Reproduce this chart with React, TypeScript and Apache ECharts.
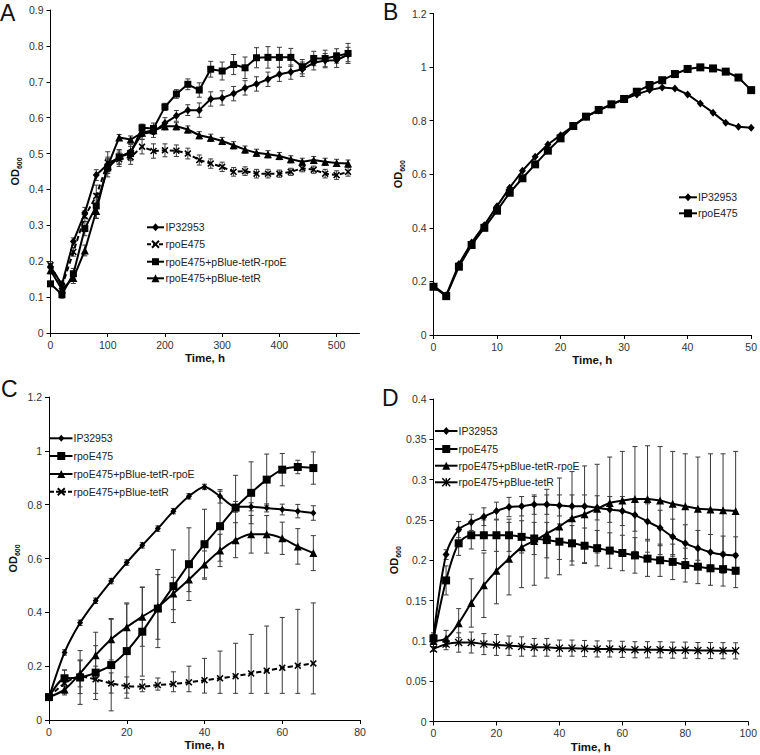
import React, { useEffect, useRef } from 'react';
import * as echarts from 'echarts';

const FONT = '"Liberation Sans", Arial, Helvetica, sans-serif';

// ---------- Panel A ----------
const tA = [0, 20, 40, 60, 80, 100, 120, 140, 160, 180, 200, 220, 240, 260, 280, 300, 320, 340, 360, 380, 400, 420, 440, 460, 480, 500, 520];
const aIP = [0.185, 0.135, 0.255, 0.335, 0.44, 0.47, 0.49, 0.505, 0.555, 0.56, 0.585, 0.605, 0.621, 0.621, 0.652, 0.655, 0.667, 0.683, 0.694, 0.707, 0.721, 0.727, 0.735, 0.753, 0.759, 0.76, 0.776];
const aIPErr = [0.005, 0.01, 0.01, 0.015, 0.015, 0.02, 0.02, 0.02, 0.015, 0.015, 0.015, 0.015, 0.015, 0.02, 0.02, 0.02, 0.02, 0.02, 0.02, 0.02, 0.02, 0.02, 0.02, 0.02, 0.02, 0.02, 0.02];
const aRpoE = [0.189, 0.13, 0.226, 0.325, 0.382, 0.475, 0.484, 0.49, 0.519, 0.507, 0.509, 0.508, 0.5, 0.482, 0.472, 0.463, 0.449, 0.451, 0.444, 0.444, 0.444, 0.449, 0.459, 0.455, 0.444, 0.44, 0.449];
const aRpoEErr = [0.01, 0.01, 0.012, 0.015, 0.03, 0.03, 0.02, 0.02, 0.02, 0.02, 0.018, 0.016, 0.015, 0.014, 0.013, 0.013, 0.012, 0.012, 0.012, 0.012, 0.01, 0.01, 0.01, 0.01, 0.012, 0.012, 0.012];
const aComp = [0.137, 0.107, 0.165, 0.291, 0.354, 0.46, 0.491, 0.5, 0.572, 0.57, 0.63, 0.666, 0.693, 0.677, 0.735, 0.73, 0.748, 0.739, 0.767, 0.768, 0.768, 0.768, 0.742, 0.765, 0.765, 0.772, 0.779];
const aCompErr = [0.005, 0.01, 0.015, 0.02, 0.035, 0.025, 0.02, 0.02, 0.01, 0.015, 0.01, 0.012, 0.015, 0.02, 0.022, 0.025, 0.028, 0.03, 0.028, 0.03, 0.028, 0.025, 0.02, 0.02, 0.023, 0.02, 0.028];
const aTetR = [0.175, 0.121, 0.153, 0.23, 0.34, 0.465, 0.545, 0.539, 0.558, 0.565, 0.576, 0.576, 0.567, 0.551, 0.544, 0.535, 0.523, 0.511, 0.502, 0.498, 0.493, 0.484, 0.477, 0.482, 0.477, 0.474, 0.472];
const aTetRErr = [0.01, 0.01, 0.015, 0.015, 0.02, 0.02, 0.008, 0.01, 0.01, 0.01, 0.01, 0.01, 0.01, 0.01, 0.01, 0.01, 0.01, 0.01, 0.01, 0.01, 0.01, 0.01, 0.01, 0.01, 0.01, 0.01, 0.01];

// ---------- Panel B ----------
const tB = [0, 2, 4, 6, 8, 10, 12, 14, 16, 18, 20, 22, 24, 26, 28, 30, 32, 34, 36, 38, 40, 42, 44, 46, 48, 50];
const bIP = [0.184, 0.148, 0.265, 0.345, 0.41, 0.481, 0.55, 0.613, 0.665, 0.711, 0.746, 0.78, 0.815, 0.838, 0.86, 0.88, 0.898, 0.914, 0.924, 0.92, 0.898, 0.864, 0.83, 0.792, 0.777, 0.774];
const bRpoE = [0.18, 0.145, 0.255, 0.336, 0.4, 0.464, 0.531, 0.585, 0.637, 0.688, 0.734, 0.78, 0.815, 0.84, 0.861, 0.881, 0.908, 0.933, 0.951, 0.974, 0.993, 0.999, 0.995, 0.983, 0.961, 0.914];

// ---------- Panel C ----------
const tC = [0, 4, 8, 12, 16, 20, 24, 28, 32, 36, 40, 44, 48, 52, 56, 60, 64, 68];
const cIP = [0.084, 0.251, 0.361, 0.443, 0.516, 0.585, 0.649, 0.711, 0.776, 0.831, 0.866, 0.831, 0.792, 0.792, 0.788, 0.782, 0.776, 0.769];
const cIPErr = [0.005, 0.01, 0.01, 0.01, 0.01, 0.01, 0.01, 0.01, 0.01, 0.01, 0.01, 0.025, 0.02, 0.015, 0.015, 0.02, 0.025, 0.027];
const cRpoE = [0.085, 0.155, 0.158, 0.176, 0.204, 0.256, 0.328, 0.414, 0.497, 0.579, 0.653, 0.72, 0.789, 0.844, 0.893, 0.93, 0.94, 0.936];
const cRpoEErr = [0.005, 0.03, 0.1, 0.1, 0.17, 0.175, 0.165, 0.145, 0.135, 0.135, 0.13, 0.13, 0.12, 0.115, 0.095, 0.06, 0.025, 0.06];
const cComp = [0.085, 0.113, 0.173, 0.241, 0.3, 0.345, 0.384, 0.42, 0.47, 0.522, 0.578, 0.63, 0.668, 0.69, 0.69, 0.675, 0.645, 0.62];
const cCompErr = [0.005, 0.02, 0.05, 0.085, 0.077, 0.09, 0.11, 0.12, 0.06, 0.045, 0.05, 0.06, 0.065, 0.07, 0.07, 0.06, 0.066, 0.065];
const cTetR = [0.085, 0.136, 0.161, 0.151, 0.136, 0.126, 0.124, 0.13, 0.134, 0.14, 0.148, 0.155, 0.163, 0.173, 0.183, 0.194, 0.202, 0.21];
const cTetRHigh = [0.09, 0.186, 0.22, 0.2, 0.175, 0.16, 0.15, 0.156, 0.179, 0.2, 0.229, 0.256, 0.285, 0.318, 0.349, 0.381, 0.411, 0.435];
const cTetRLow = [0.08, 0.098, 0.098, 0.099, 0.1, 0.1, 0.105, 0.111, 0.105, 0.105, 0.1, 0.099, 0.099, 0.099, 0.099, 0.099, 0.099, 0.097];

// ---------- Panel D ----------
const tD = [0, 4, 8, 12, 16, 20, 24, 28, 32, 36, 40, 44, 48, 52, 56, 60, 64, 68, 72, 76, 80, 84, 88, 92, 96];
const dIP = [0.105, 0.207, 0.238, 0.247, 0.254, 0.261, 0.266, 0.267, 0.269, 0.269, 0.268, 0.267, 0.267, 0.265, 0.263, 0.261, 0.256, 0.248, 0.24, 0.229, 0.221, 0.215, 0.21, 0.207, 0.206];
const dIPErr = [0.005, 0.006, 0.01, 0.01, 0.011, 0.011, 0.012, 0.012, 0.012, 0.012, 0.013, 0.014, 0.014, 0.015, 0.016, 0.018, 0.02, 0.022, 0.022, 0.022, 0.023, 0.022, 0.022, 0.023, 0.023];
const dRpoE = [0.103, 0.175, 0.221, 0.231, 0.231, 0.231, 0.231, 0.229, 0.227, 0.225, 0.223, 0.221, 0.218, 0.215, 0.212, 0.209, 0.206, 0.202, 0.2, 0.198, 0.194, 0.192, 0.19, 0.189, 0.187];
const dRpoEErr = [0.005, 0.018, 0.015, 0.017, 0.019, 0.02, 0.02, 0.02, 0.02, 0.022, 0.022, 0.022, 0.022, 0.022, 0.022, 0.022, 0.022, 0.022, 0.02, 0.022, 0.021, 0.021, 0.021, 0.021, 0.021];
const dComp = [0.1, 0.103, 0.122, 0.147, 0.169, 0.187, 0.202, 0.216, 0.224, 0.233, 0.242, 0.252, 0.257, 0.264, 0.271, 0.274, 0.276, 0.276, 0.274, 0.27, 0.267, 0.264, 0.263, 0.262, 0.261];
const dCompErr = [0.003, 0.01, 0.018, 0.03, 0.04, 0.041, 0.045, 0.05, 0.055, 0.055, 0.06, 0.058, 0.06, 0.055, 0.057, 0.061, 0.065, 0.066, 0.067, 0.065, 0.065, 0.064, 0.069, 0.07, 0.074];
const dTetR = [0.09, 0.096, 0.098, 0.098, 0.096, 0.095, 0.094, 0.093, 0.092, 0.092, 0.091, 0.091, 0.0905, 0.09, 0.09, 0.0895, 0.089, 0.089, 0.089, 0.0885, 0.0885, 0.088, 0.088, 0.0878, 0.0876];
const dTetRErr = [0.003, 0.007, 0.012, 0.013, 0.013, 0.013, 0.012, 0.012, 0.011, 0.011, 0.01, 0.01, 0.01, 0.01, 0.01, 0.01, 0.01, 0.01, 0.01, 0.01, 0.01, 0.01, 0.01, 0.01, 0.01];

const SYM_X = 'path://M0,1.6L1.6,0L5,3.4L8.4,0L10,1.6L6.6,5L10,8.4L8.4,10L5,6.6L1.6,10L0,8.4L3.4,5Z';
const SYM_STAR = 'path://M0,1.2L1.2,0L5,3.8L8.8,0L10,1.2L6.2,5L10,8.8L8.8,10L5,6.2L1.2,10L0,8.8L3.8,5Z M4.4,0L5.6,0L5.6,10L4.4,10Z';

type Mk = 'diamond' | 'rect' | 'triangle' | 'x' | 'star';
const symOf = (m: Mk) => (m === 'x' ? SYM_X : m === 'star' ? SYM_STAR : m);

interface Spec {
  name: string;
  t: number[];
  v: number[];
  err?: number[];
  lo?: number[];
  hi?: number[];
  mk: Mk;
  size: number | number[];
  dashed?: boolean;
  smooth?: number | boolean;
}

const ERR_COLOR = '#3a3a3a';

function buildSeries(i: number, specs: Spec[], cap: number): any[] {
  const out: any[] = [];
  specs.forEach((s) => {
    if (s.err || (s.lo && s.hi)) {
      const data = s.t.map((x, j) => {
        const lo = s.lo ? s.lo[j] : s.v[j] - (s.err as number[])[j];
        const hi = s.hi ? s.hi[j] : s.v[j] + (s.err as number[])[j];
        return [x, lo, hi];
      });
      out.push({
        type: 'custom',
        xAxisIndex: i,
        yAxisIndex: i,
        silent: true,
        z: 1,
        encode: { x: 0, y: [1, 2] },
        data,
        renderItem: (params: any, api: any) => {
          const x = api.value(0);
          const p1 = api.coord([x, api.value(2)]);
          const p2 = api.coord([x, api.value(1)]);
          const st = { stroke: ERR_COLOR, lineWidth: 1 };
          const w = cap / 2;
          return {
            type: 'group',
            children: [
              { type: 'line', shape: { x1: p1[0], y1: p1[1], x2: p2[0], y2: p2[1] }, style: st },
              { type: 'line', shape: { x1: p1[0] - w, y1: p1[1], x2: p1[0] + w, y2: p1[1] }, style: st },
              { type: 'line', shape: { x1: p2[0] - w, y1: p2[1], x2: p2[0] + w, y2: p2[1] }, style: st },
            ],
          };
        },
      });
    }
  });
  specs.forEach((s) => {
    out.push({
      type: 'line',
      name: s.name,
      xAxisIndex: i,
      yAxisIndex: i,
      silent: true,
      z: 3,
      data: s.t.map((x, j) => [x, s.v[j]]),
      symbol: symOf(s.mk),
      symbolSize: s.size,
      showSymbol: true,
      smooth: s.smooth ?? false,
      itemStyle: { color: '#000', borderWidth: 0 },
      lineStyle: { color: '#000', width: 2, type: s.dashed ? [5, 3] : 'solid' },
    });
  });
  return out;
}

function axes(i: number, xMax: number, xInt: number, yMax: number, yInt: number, hideMaxX: boolean) {
  const lbl = { fontFamily: FONT, fontSize: 10.5, color: '#333' };
  const line = { show: true, onZero: false, lineStyle: { color: '#000', width: 1 } };
  const tick = { show: true, inside: false, length: 4, lineStyle: { color: '#000', width: 1 } };
  const x = {
    type: 'value',
    gridIndex: i,
    min: 0,
    max: xMax,
    interval: xInt,
    axisLine: line,
    axisTick: tick,
    splitLine: { show: false },
    axisLabel: { ...lbl, margin: 6, showMaxLabel: !hideMaxX },
    name: 'Time, h',
    nameLocation: 'middle',
    nameGap: 19,
    nameTextStyle: { fontFamily: FONT, fontSize: 11.5, fontWeight: 'bold', color: '#111' },
  };
  const y = {
    type: 'value',
    gridIndex: i,
    min: 0,
    max: yMax,
    interval: yInt,
    axisLine: line,
    axisTick: tick,
    splitLine: { show: false },
    axisLabel: { ...lbl, margin: 7 },
    name: '{a|OD}{b|600}',
    nameLocation: 'middle',
    nameRotate: 90,
    nameGap: 28,
    nameTextStyle: {
      rich: {
        a: { fontFamily: FONT, fontSize: 11, fontWeight: 'bold', color: '#111', lineHeight: 16 },
        b: { fontFamily: FONT, fontSize: 7, fontWeight: 'bold', color: '#111', lineHeight: 8, verticalAlign: 'bottom' },
      },
    },
  };
  return { x, y };
}

function marker(m: Mk, cx: number, cy: number, s: number): any[] {
  const h = s / 2;
  const fill = { fill: '#000' };
  switch (m) {
    case 'diamond':
      return [{ type: 'polygon', shape: { points: [[cx, cy - h - 0.5], [cx + h, cy], [cx, cy + h + 0.5], [cx - h, cy]] }, style: fill }];
    case 'rect':
      return [{ type: 'rect', shape: { x: cx - h, y: cy - h, width: s, height: s }, style: fill }];
    case 'triangle':
      return [{ type: 'polygon', shape: { points: [[cx, cy - h], [cx + h, cy + h], [cx - h, cy + h]] }, style: fill }];
    case 'x':
      return [
        { type: 'line', shape: { x1: cx - h, y1: cy - h, x2: cx + h, y2: cy + h }, style: { stroke: '#000', lineWidth: 2 } },
        { type: 'line', shape: { x1: cx - h, y1: cy + h, x2: cx + h, y2: cy - h }, style: { stroke: '#000', lineWidth: 2 } },
      ];
    case 'star':
      return [
        { type: 'line', shape: { x1: cx - h, y1: cy - h, x2: cx + h, y2: cy + h }, style: { stroke: '#000', lineWidth: 1.5 } },
        { type: 'line', shape: { x1: cx - h, y1: cy + h, x2: cx + h, y2: cy - h }, style: { stroke: '#000', lineWidth: 1.5 } },
        { type: 'line', shape: { x1: cx, y1: cy - h, x2: cx, y2: cy + h }, style: { stroke: '#000', lineWidth: 1.5 } },
      ];
  }
  return [];
}

function legend(x0: number, x1: number, tx: number, ys: number[], specs: Spec[]): any[] {
  const els: any[] = [];
  specs.forEach((s, k) => {
    const y = ys[k];
    els.push({
      type: 'line',
      shape: { x1: x0, y1: y, x2: x1, y2: y },
      style: { stroke: '#000', lineWidth: 2, lineDash: s.dashed ? [4, 2] : null },
    });
    const sz = typeof s.size === 'number' ? s.size : (s.size as number[])[0];
    els.push(...marker(s.mk, (x0 + x1) / 2, y, sz));
    els.push({
      type: 'text',
      x: tx,
      y,
      style: {
        text: s.name,
        fontFamily: FONT,
        fontSize: 10.5,
        fill: '#222',
        align: 'left',
        verticalAlign: 'middle',
        textAlign: 'left',
        textVerticalAlign: 'middle',
      },
    });
  });
  return els;
}

function letter(ch: string, x: number, y: number): any {
  return {
    type: 'text',
    x,
    y,
    style: {
      text: ch,
      fontFamily: FONT,
      fontSize: 23,
      fill: '#111',
      align: 'left',
      verticalAlign: 'middle',
      textAlign: 'left',
      textVerticalAlign: 'middle',
    },
  };
}

export default function App() {
  const ref = useRef<HTMLDivElement>(null);
  useEffect(() => {
    document.body.style.margin = '0';
    if (!ref.current) return;
    const chart = echarts.init(ref.current, null, { renderer: 'svg' });

    const specA: Spec[] = [
      { name: 'IP32953', t: tA, v: aIP, err: aIPErr, mk: 'diamond', size: [7, 8] },
      { name: 'rpoE475', t: tA, v: aRpoE, err: aRpoEErr, mk: 'x', size: 7, dashed: true },
      { name: 'rpoE475+pBlue-tetR-rpoE', t: tA, v: aComp, err: aCompErr, mk: 'rect', size: 7 },
      { name: 'rpoE475+pBlue-tetR', t: tA, v: aTetR, err: aTetRErr, mk: 'triangle', size: 8 },
    ];
    const specB: Spec[] = [
      { name: 'IP32953', t: tB, v: bIP, mk: 'diamond', size: [7, 8] },
      { name: 'rpoE475', t: tB, v: bRpoE, mk: 'rect', size: 8 },
    ];
    const specC: Spec[] = [
      { name: 'IP32953', t: tC, v: cIP, err: cIPErr, mk: 'diamond', size: [6, 7], smooth: 0.3 },
      { name: 'rpoE475', t: tC, v: cRpoE, err: cRpoEErr, mk: 'rect', size: 8, smooth: 0.3 },
      { name: 'rpoE475+pBlue-tetR-rpoE', t: tC, v: cComp, err: cCompErr, mk: 'triangle', size: 8, smooth: 0.3 },
      { name: 'rpoE475+pBlue-tetR', t: tC, v: cTetR, lo: cTetRLow, hi: cTetRHigh, mk: 'x', size: 7, dashed: true, smooth: 0.3 },
    ];
    const specD: Spec[] = [
      { name: 'IP32953', t: tD, v: dIP, err: dIPErr, mk: 'diamond', size: [7, 8], smooth: 0.3 },
      { name: 'rpoE475', t: tD, v: dRpoE, err: dRpoEErr, mk: 'rect', size: 8, smooth: 0.3 },
      { name: 'rpoE475+pBlue-tetR-rpoE', t: tD, v: dComp, err: dCompErr, mk: 'triangle', size: 8, smooth: 0.3 },
      { name: 'rpoE475+pBlue-tetR', t: tD, v: dTetR, err: dTetRErr, mk: 'star', size: 8, smooth: 0.3 },
    ];

    const axA = axes(0, 540, 100, 0.9, 0.1, true);
    const axB = axes(1, 50, 10, 1.2, 0.2, false);
    const axC = axes(2, 80, 20, 1.2, 0.2, false);
    const axD = axes(3, 100, 20, 0.4, 0.05, false);

    chart.setOption({
      animation: false,
      backgroundColor: '#fff',
      grid: [
        { left: 50.5, top: 10, width: 309, height: 323 },
        { left: 433.5, top: 13.5, width: 318, height: 321.5 },
        { left: 49, top: 397, width: 311, height: 323 },
        { left: 433.5, top: 399, width: 318, height: 322.5 },
      ],
      xAxis: [axA.x, axB.x, axC.x, axD.x],
      yAxis: [axA.y, axB.y, axC.y, axD.y],
      series: [
        ...buildSeries(0, specA, 5),
        ...buildSeries(1, specB, 5),
        ...buildSeries(2, specC, 5),
        ...buildSeries(3, specD, 5),
      ],
      graphic: [
        letter('A', 0, 13),
        letter('B', 383, 11.5),
        letter('C', 1, 389),
        letter('D', 382, 398),
        ...legend(147, 164, 165.5, [227.3, 244.3, 261.7, 278.3], specA),
        ...legend(679, 697, 698, [197.3, 213.3], specB),
        ...legend(50, 72.5, 73.5, [438.3, 456, 474, 491.7], specC),
        ...legend(435, 457.5, 458.5, [431, 449, 465.7, 482.3], specD),
      ],
    });
    return () => chart.dispose();
  }, []);
  return <div ref={ref} style={{ width: 760, height: 755 }} />;
}
